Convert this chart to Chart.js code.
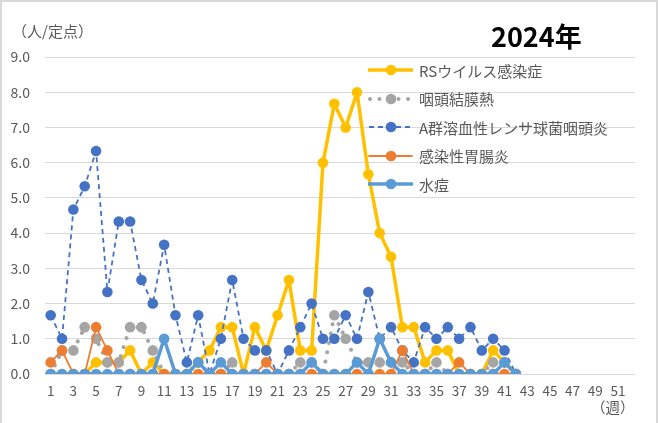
<!DOCTYPE html>
<html>
<head>
<meta charset="utf-8">
<script src="https://cdn.jsdelivr.net/npm/chart.js@4.4.1/dist/chart.umd.min.js"></script>
<style>
  html, body { margin: 0; padding: 0; background: #fff; }
  #wrap { position: relative; width: 659px; height: 423px; overflow: hidden; font-family: 'Noto Sans CJK JP', 'Noto Sans', sans-serif; }
  #frame { position: absolute; left: 0; top: 0; width: 654px; height: 440px; border: 2px solid #d9d9d9; box-sizing: content-box; pointer-events: none; }
  canvas { position: absolute; left: 0; top: 0; }
  .txt { position: absolute; color: #595959; white-space: nowrap; }
  #unit { left: 12px; top: 20px; font-size: 15px; }
  #year { left: 491px; top: 16px; font-size: 27px; font-weight: bold; color: #000; }
  #week { left: 591px; top: 396px; font-size: 14.5px; }
  .leg { position: absolute; left: 368px; height: 20px; display: flex; align-items: center; }
  .leg span { color: #595959; font-size: 15px; margin-left: 6px; white-space: nowrap; }
</style>
</head>
<body>
<div id="wrap">
  <canvas id="c" width="659" height="423"></canvas>
  <div id="frame"></div>
  <div class="txt" id="unit">（人/定点）</div>
  <div class="txt" id="year">2024年</div>
  <div class="txt" id="week">（週）</div>
  <div id="legend"></div>
</div>
<script>
// ---- data ----
const weeks = Array.from({length: 52}, (_, i) => String(i + 1));
const yTicks = [0, 1, 2, 3, 4, 5, 6, 7, 8, 9];
const seriesNames = ['RSウイルス感染症', '咽頭結膜熱', 'A群溶血性レンサ球菌咽頭炎', '感染性胃腸炎', '水痘'];
const rsv = [0,0,0,0,0.33,0.33,0.33,0.67,0,0.33, 0,0,0,0.33,0.67,1.33,1.33,0,1.33,0.67,
             1.67,2.67,0.67,0.67,6.0,7.67,7.0,8.0,5.67,4.0, 3.33,1.33,1.33,0.33,0.67,0.67,0,0,0,0.67,
             0.33,0];
const pcf = [0,0.67,0.67,1.33,1.0,0.33,0.33,1.33,1.33,0.67, 0,0,0,0.33,0,0,0.33,0,0,0,
             0,0,0.33,0.33,0,1.67,1.0,0.33,0.33,0.33, 0.33,0.33,0,0,0.33,0,0,0,0,0.33,
             0.33,0];
const gas = [1.67,1.0,4.67,5.33,6.33,2.33,4.33,4.33,2.67,2.0, 3.67,1.67,0.33,1.67,0,1.0,2.67,1.0,0.67,0.67,
             0,0.67,1.33,2.0,1.0,1.0,1.67,1.0,2.33,1.0, 1.33,0.67,0.33,1.33,1.0,1.33,1.0,1.33,0.67,1.0,
             0.67,0];
const gastro = [0.33,0.67,0,0,1.33,0.67,0,0,0,0, 0,0,0,0,0,0,0,0,0,0.33,
                0,0,0,0,0,0,0,0,0,0, 0,0.67,0,0,0,0,0.33,0,0,0,
                0,0];
const varicella = [0,0,0,0,0,0,0,0,0,0, 1.0,0,0,0.33,0,0.33,0,0,0,0,
                   0,0,0,0.33,0,0,0,0.33,0,1.0, 0.33,0,0,0,0,0,0,0,0,0,
                   0.33,0];

// ---- styles ----
const styles = [
  {color: '#FFC000', width: 3.5, dash: [], cap: 'round'},
  {color: '#A5A5A5', width: 4, dash: [0.01, 9.5], cap: 'round'},
  {color: '#4472C4', width: 1.8, dash: [5, 4], cap: 'butt'},
  {color: '#ED7D31', width: 1.8, dash: [], cap: 'round'},
  {color: '#5B9BD5', width: 3.5, dash: [], cap: 'round'}
];
const values = [rsv, pcf, gas, gastro, varicella];

const datasets = values.map((d, i) => ({
  label: seriesNames[i],
  data: d,
  borderColor: styles[i].color,
  backgroundColor: styles[i].color,
  borderWidth: styles[i].width,
  borderDash: styles[i].dash,
  borderCapStyle: styles[i].cap,
  borderJoinStyle: 'round',
  pointBackgroundColor: styles[i].color,
  pointBorderColor: styles[i].color,
  pointBorderWidth: 0,
  pointRadius: 5.3,
  tension: 0,
  fill: false,
  order: 5 - i
}));

const FONT = "'Noto Sans CJK JP', 'Noto Sans', sans-serif";

new Chart(document.getElementById('c'), {
  type: 'line',
  data: { labels: weeks, datasets },
  options: {
    responsive: false,
    animation: false,
    devicePixelRatio: 1,
    layout: { padding: { left: 0, right: 24, top: 57, bottom: 19 } },
    plugins: { legend: { display: false }, tooltip: { enabled: false } },
    scales: {
      x: {
        type: 'category',
        offset: true,
        grid: { display: false, drawTicks: false },
        border: { display: false },
        ticks: {
          autoSkip: false, maxRotation: 0, minRotation: 0, padding: 9,
          color: '#595959', font: { family: FONT, size: 13.5 },
          callback: (v, i) => (i % 2 === 0 ? weeks[i] : '')
        },
        afterFit: s => { s.height = 30; }
      },
      y: {
        min: 0, max: 9,
        afterBuildTicks: s => { s.ticks = yTicks.map(v => ({ value: v })); },
        grid: { color: '#d9d9d9', lineWidth: 1, drawTicks: false },
        border: { display: false },
        ticks: {
          padding: 15, color: '#595959', font: { family: FONT, size: 14 },
          callback: v => Number(v).toFixed(1)
        },
        afterFit: s => { s.width = 45; }
      }
    }
  }
});

// ---- HTML legend ----
const leg = document.getElementById('legend');
seriesNames.forEach((name, i) => {
  const st = styles[i];
  const row = document.createElement('div');
  row.className = 'leg';
  row.style.top = (60 + i * 28.5) + 'px';
  const dash = st.dash.length ? `stroke-dasharray="${st.dash.join(' ')}"` : '';
  const x1 = i === 1 ? 2 : 1;
  row.innerHTML =
    `<svg width="45" height="20"><line x1="${x1}" y1="10" x2="44" y2="10" stroke="${st.color}" stroke-width="${st.width}" stroke-linecap="${st.cap}" ${dash}/>` +
    `<circle cx="23" cy="10" r="5.3" fill="${st.color}"/></svg><span>${name}</span>`;
  leg.appendChild(row);
});
</script>
</body>
</html>
